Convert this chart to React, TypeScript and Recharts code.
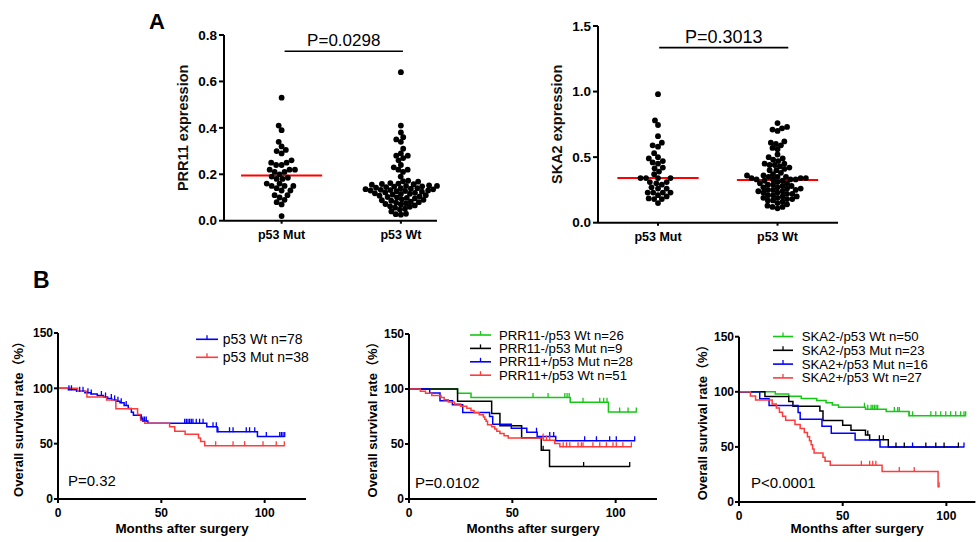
import React from 'react';
import { ScatterChart, Scatter, LineChart, Line, XAxis, YAxis, ReferenceLine } from 'recharts';

const FONT = 'Arial, "Liberation Sans", "Noto Sans CJK SC", sans-serif';

// ---------- Panel A: expression by p53 status ----------
const groups = ['p53 Mut', 'p53 Wt'];

const prr11Mut = [
  0.53, 0.41, 0.39, 0.34, 0.32, 0.305, 0.3, 0.29, 0.26, 0.25, 0.25, 0.24, 0.24, 0.22, 0.22, 0.22, 0.21, 0.21, 0.2,
  0.19, 0.185, 0.18, 0.18, 0.16, 0.16, 0.15, 0.15, 0.15, 0.14, 0.13, 0.13, 0.11, 0.11, 0.1, 0.09, 0.08, 0.07, 0.02,
];
const prr11Wt = [
  0.64, 0.41, 0.38, 0.36, 0.35, 0.34, 0.31, 0.29, 0.28, 0.28, 0.27, 0.26, 0.24, 0.23, 0.22, 0.22, 0.21, 0.19,
  0.172, 0.17, 0.168, 0.162, 0.16, 0.158, 0.157, 0.155, 0.152, 0.15, 0.15, 0.148, 0.147, 0.145, 0.142, 0.14, 0.14,
  0.138, 0.136, 0.135, 0.133, 0.132, 0.13, 0.13, 0.128, 0.127, 0.125, 0.122, 0.12, 0.118, 0.116, 0.115, 0.112,
  0.11, 0.108, 0.105, 0.102, 0.1, 0.098, 0.096, 0.092, 0.09, 0.088, 0.086, 0.082, 0.08, 0.078, 0.075, 0.072, 0.07,
  0.066, 0.062, 0.06, 0.056, 0.052, 0.048, 0.04, 0.03, 0.028, 0.026,
];
const ska2Mut = [
  0.98, 0.78, 0.745, 0.66, 0.61, 0.59, 0.58, 0.53, 0.5, 0.49, 0.47, 0.46, 0.45, 0.42, 0.415, 0.39, 0.37, 0.34, 0.34,
  0.34, 0.34, 0.31, 0.31, 0.3, 0.29, 0.27, 0.26, 0.26, 0.23, 0.23, 0.23, 0.23, 0.21, 0.2, 0.185, 0.18, 0.18, 0.15,
];
const ska2Wt = [
  0.76, 0.73, 0.72, 0.71, 0.7, 0.62, 0.61, 0.6, 0.59, 0.57, 0.56, 0.52, 0.5, 0.49, 0.48, 0.47, 0.45, 0.45, 0.44,
  0.44, 0.43, 0.42, 0.41, 0.4, 0.4, 0.38, 0.37, 0.36, 0.36, 0.35, 0.35, 0.35, 0.34, 0.34, 0.34, 0.33, 0.33, 0.33,
  0.33, 0.32, 0.32, 0.31, 0.3, 0.3, 0.29, 0.29, 0.28, 0.28, 0.27, 0.27, 0.26, 0.26, 0.25, 0.25, 0.25, 0.24, 0.24,
  0.23, 0.23, 0.22, 0.22, 0.21, 0.21, 0.2, 0.2, 0.19, 0.19, 0.18, 0.18, 0.17, 0.17, 0.16, 0.15, 0.14, 0.13, 0.12,
  0.12, 0.11,
];
const prr11Ticks = [0, 0.2, 0.4, 0.6, 0.8];
const ska2Ticks = [0, 0.5, 1, 1.5];

// ---------- Panel B: Kaplan-Meier curves (months, survival %) ----------
const monthTicks = [0, 50, 100];
const survTicks = [0, 50, 100, 150];

// p53 overall
const wtTimes = [5, 9, 13, 16, 19, 22, 24, 26, 28, 30, 32, 34, 35.5, 36.5, 40, 41, 43.5, 72, 77, 96.5];
const wtSurv = [98.7, 97.4, 96.1, 94.8, 93.5, 92.2, 90.9, 89.6, 88.3, 87, 84.4, 81.8, 78.5, 75.6, 72.4, 70.5, 68.5, 65.2, 60.8, 56.5];
const wtCensor = [
  5.3, 6.5, 10.5, 12.1, 14.5, 16.1, 21, 23, 25.8, 27.4, 29, 30.6, 33, 40.3, 41.1, 41.9, 42.7, 61.3, 62.1, 62.9, 63.7,
  64.5, 65.3, 66.9, 68.5, 70.2, 75, 76.6, 77.4, 83, 84.7, 91.1, 92.7, 95.2, 100.8, 107.3, 108.1, 108.9, 109.7,
];
const mutTimes = [9.5, 14, 23.5, 28, 38.5, 40, 42, 54, 56.5, 61.5, 68, 69, 71];
const mutSurv = [97.4, 92.1, 89.5, 81.6, 76.3, 71.1, 68.4, 65.3, 61.2, 58.5, 55.2, 51.9, 48.2];
const mutCensor = [76.3, 84.7, 90.3, 99.2, 105.6, 109.5];

// PRR11 x p53
const pNegWtTimes = [23.5, 30, 78, 96.5];
const pNegWtSurv = [96.2, 92.3, 88, 79.2];
const pNegWtCensor = [60, 67.3, 75.4, 76.5, 77.5, 84.2, 92.3, 94.2, 95.8, 101.9, 106, 110];
const pNegMutTimes = [23.5, 40, 44, 54.5, 64, 68];
const pNegMutSurv = [88.9, 77.8, 66.7, 55.6, 44.4, 29.6];
const pNegMutCensor = [64.9, 84.5, 106.8];
const pPosMutTimes = [10, 15, 21, 26, 39, 40.5, 49.5, 57, 62, 71];
const pPosMutSurv = [96.4, 89.3, 85.7, 78.6, 75, 67.9, 64.3, 60.7, 56.9, 52.9];
const pPosMutCensor = [61.7, 68.1, 70, 85, 90.7, 97.1, 100.3, 109.2];
const pPosWtTimes = [5.5, 8, 11, 15.5, 17, 19, 22, 25, 28, 30, 31.5, 34, 36, 36.7, 37.3, 38, 40, 41.5, 42.5, 44, 46, 48, 65, 70.5, 73];
const pPosWtSurv = [98, 96.1, 94.1, 92.2, 90.2, 88.2, 86.3, 84.3, 82.4, 80.4, 78.4, 76.5, 74.5, 72.5, 70.6, 67.6, 65.6, 63.6, 61.6, 59.6, 57.6, 55.5, 53.3, 50.5, 47.4];
const pPosWtCensor = [64.9, 66.5, 68.1, 74.6, 76.2, 77.8, 81.8, 83.4, 84.2, 89, 92.3, 95.5, 98.7, 100.3, 103.5, 107.6];

// SKA2 x p53
const sNegWtTimes = [17.5, 24, 30, 37.5, 42, 45, 48, 61, 71, 82];
const sNegWtSurv = [98, 96, 94, 92, 90, 88, 86, 84.2, 82.2, 78.2];
const sNegWtCensor = [60.5, 62.1, 63.7, 64.5, 65.3, 66.1, 66.9, 74.9, 76.5, 77.3, 82.1, 83.7, 92.5, 94.9, 97.3, 99.7, 102.1, 104.5, 106.9, 108.5, 109.3];
const sNegMutTimes = [12.5, 24, 26, 39, 40.5, 50, 54, 61, 63, 72];
const sNegMutSurv = [95.7, 91.3, 87, 82.6, 73.9, 69.6, 65.2, 60.9, 56.5, 50];
const sNegMutCensor = [62.1, 67.7, 69.6, 75.7, 79.7, 90.1, 94.9, 98.9, 105.8];
const sPosMutTimes = [10, 14.5, 28.5, 29.5, 40, 44.5, 56, 68];
const sPosMutSurv = [93.75, 87.5, 81.25, 75, 68.75, 62.5, 56.25, 50];
const sPosMutCensor = [83.7, 108.5];
const sPosWtTimes = [5.5, 8, 16, 18, 19.5, 21, 22.5, 27, 29.5, 31.5, 33, 34, 34.8, 35.5, 36.2, 40.5, 41.5, 44, 69, 96];
const sPosWtSurv = [96.3, 92.6, 88.9, 85.2, 81.5, 77.8, 74.1, 70.4, 66.7, 63, 59.3, 55.6, 51.9, 48.1, 44.4, 40.7, 37, 33.3, 27.7, 13.9];
const sPosWtCensor = [59, 63, 64.5, 66, 77.3, 84.5, 96.5];

const BLUE = '#0000ff';
const RED = '#ff3b3b';
const GREEN = '#14c814';
const BLACK = '#000000';

type Curve = { name: string; color: string; times: number[]; surv: number[]; censor: number[] };

const curve = (name: string, color: string, times: number[], surv: number[], censor: number[]): Curve => ({
  name, color, times, surv, censor,
});

const p53Curves = [
  curve('p53 Wt n=78', BLUE, wtTimes, wtSurv, wtCensor),
  curve('p53 Mut n=38', RED, mutTimes, mutSurv, mutCensor),
];
const prr11Curves = [
  curve('PRR11-/p53 Wt n=26', GREEN, pNegWtTimes, pNegWtSurv, pNegWtCensor),
  curve('PRR11-/p53 Mut n=9', BLACK, pNegMutTimes, pNegMutSurv, pNegMutCensor),
  curve('PRR11+/p53 Mut n=28', BLUE, pPosMutTimes, pPosMutSurv, pPosMutCensor),
  curve('PRR11+/p53 Wt n=51', RED, pPosWtTimes, pPosWtSurv, pPosWtCensor),
];
const ska2Curves = [
  curve('SKA2-/p53 Wt n=50', GREEN, sNegWtTimes, sNegWtSurv, sNegWtCensor),
  curve('SKA2-/p53 Mut n=23', BLACK, sNegMutTimes, sNegMutSurv, sNegMutCensor),
  curve('SKA2+/p53 Mut n=16', BLUE, sPosMutTimes, sPosMutSurv, sPosMutCensor),
  curve('SKA2+/p53 Wt n=27', RED, sPosWtTimes, sPosWtSurv, sPosWtCensor),
];

// ---------- helpers ----------
function median(a: number[]) {
  const s = [...a].sort((x, y) => x - y);
  const m = Math.floor(s.length / 2);
  return s.length % 2 ? s[m] : (s[m - 1] + s[m]) / 2;
}

// simple beeswarm: place each dot as close to the column centre as it can without overlap
function swarm(values: number[], cat: number, pxX: number, pxY: number, d: number) {
  const pts: { x: number; y: number }[] = [];
  [...values].sort((a, b) => a - b).forEach((v) => {
    const y = v * pxY;
    const cands = [0];
    pts.forEach((p) => {
      const dy = Math.abs(p.y - y);
      if (dy < d) {
        const dx = Math.sqrt(d * d - dy * dy);
        cands.push(p.x + dx, p.x - dx);
      }
    });
    cands.sort((a, b) => Math.abs(a) - Math.abs(b) || a - b);
    const x = cands.find((c) => pts.every((p) => (p.x - c) ** 2 + (p.y - y) ** 2 >= d * d - 0.01)) ?? 0;
    pts.push({ x, y });
  });
  return pts.map((p) => ({ x: cat + p.x / pxX, y: p.y / pxY }));
}

function steps(c: Curve) {
  const last = c.censor[c.censor.length - 1];
  const end = Math.max(last, c.times[c.times.length - 1]);
  return [{ t: 0, s: 100 }, ...c.times.map((t, i) => ({ t, s: c.surv[i] })), { t: end, s: c.surv[c.surv.length - 1] }];
}

function survAt(c: Curve, t: number) {
  let s = 100;
  c.times.forEach((tt, i) => {
    if (tt <= t) s = c.surv[i];
  });
  return s;
}

const dotShape = (p: any) => <circle cx={p.cx} cy={p.cy} r={2.9} fill="#000" />;

const tickStyle = { fill: '#000', fontSize: 12, fontWeight: 'bold' as const };
const axisStyle = { stroke: '#000', strokeWidth: 2 };

type DotProps = {
  left: number; top: number; width: number; height: number;
  mTop: number; mRight: number; yw: number; xh: number;
  xDomain: [number, number]; yDomain: [number, number]; yTicks: number[];
  yLabel: string; labelOffset: number; mut: number[]; wt: number[];
  pText: string; pSize: number; bracketY: number; bracketX: [number, number];
};

function DotPlot(p: DotProps) {
  const plotW = p.width - p.yw - p.mRight;
  const plotH = p.height - p.mTop - p.xh;
  const pxX = plotW / (p.xDomain[1] - p.xDomain[0]);
  const pxY = plotH / (p.yDomain[1] - p.yDomain[0]);
  const mutPts = swarm(p.mut, 0, pxX, pxY, 5.5);
  const wtPts = swarm(p.wt, 1, pxX, pxY, 5.2);
  const mMed = median(p.mut);
  const wMed = median(p.wt);
  return (
    <div style={{ position: 'absolute', left: p.left, top: p.top }}>
      <ScatterChart width={p.width} height={p.height} margin={{ top: p.mTop, right: p.mRight, bottom: 0, left: 0 }}>
        <XAxis
          type="number" dataKey="x" domain={p.xDomain} ticks={[0, 1]} interval={0} height={p.xh}
          tickFormatter={(v: number) => groups[v]} tick={{ ...tickStyle, fontSize: 12.5 }}
          axisLine={axisStyle} tickLine={axisStyle} tickSize={3} tickMargin={6}
        />
        <YAxis
          type="number" dataKey="y" domain={p.yDomain} ticks={p.yTicks} width={p.yw}
          tickFormatter={(v: number) => v.toFixed(1)} tick={{ ...tickStyle, fontSize: 13.5 }}
          axisLine={axisStyle} tickLine={axisStyle} tickSize={5} tickMargin={2}
          label={{
            value: p.yLabel, angle: -90, position: 'insideLeft', offset: p.labelOffset,
            fontSize: 14.5, fontWeight: 'bold', fill: '#111', style: { textAnchor: 'middle' },
          }}
        />
        <Scatter data={mutPts} shape={dotShape} isAnimationActive={false} />
        <Scatter data={wtPts} shape={dotShape} isAnimationActive={false} />
        <ReferenceLine segment={[{ x: -0.34, y: mMed }, { x: 0.34, y: mMed }]} stroke="#ff0000" strokeWidth={2} />
        <ReferenceLine segment={[{ x: 0.66, y: wMed }, { x: 1.34, y: wMed }]} stroke="#ff0000" strokeWidth={2} />
        <ReferenceLine
          segment={[{ x: p.bracketX[0], y: p.bracketY }, { x: p.bracketX[1], y: p.bracketY }]}
          stroke="#000" strokeWidth={1.6}
          label={{ value: p.pText, position: 'top', offset: 5, fontSize: p.pSize, fill: '#000' }}
        />
      </ScatterChart>
    </div>
  );
}

type KMProps = {
  left: number; top: number; width: number; height: number;
  mTop: number; mRight: number; yw: number; xh: number; xMax: number;
  curves: Curve[]; labelOffset: number;
};

function KMPlot(p: KMProps) {
  return (
    <div style={{ position: 'absolute', left: p.left, top: p.top }}>
      <LineChart width={p.width} height={p.height} margin={{ top: p.mTop, right: p.mRight, bottom: 0, left: 0 }}>
        <XAxis
          type="number" dataKey="t" domain={[0, p.xMax]} ticks={monthTicks} interval={0} allowDataOverflow
          height={p.xh} tick={tickStyle} axisLine={axisStyle} tickLine={axisStyle} tickSize={4} tickMargin={5}
          label={{
            value: 'Months after surgery', position: 'insideBottom', offset: 9,
            fontSize: 13.4, fontWeight: 'bold', fill: '#000',
          }}
        />
        <YAxis
          type="number" domain={[0, 150]} ticks={survTicks} width={p.yw} tick={tickStyle}
          axisLine={axisStyle} tickLine={axisStyle} tickSize={4} tickMargin={1}
          label={{
            value: 'Overall survival rate（%）', angle: -90, position: 'insideLeft', offset: p.labelOffset,
            fontSize: 13, fontWeight: 'bold', fill: '#000', style: { textAnchor: 'middle' },
          }}
        />
        {p.curves.map((c) => (
          <Line
            key={c.name} data={steps(c)} dataKey="s" type="stepAfter" stroke={c.color} strokeWidth={1.5}
            dot={false} activeDot={false} isAnimationActive={false}
          />
        ))}
        {p.curves.map((c) => (
          <Line
            key={c.name + '-censor'} data={c.censor.map((t) => ({ t, s: survAt(c, t) }))} dataKey="s"
            stroke="none" activeDot={false} isAnimationActive={false}
            dot={(d: any) => (
              <line key={`${c.name}-${d.index}`} x1={d.cx} x2={d.cx} y1={d.cy - 4.5} y2={d.cy + 0.5} stroke={c.color} strokeWidth={1.3} />
            )}
          />
        ))}
      </LineChart>
    </div>
  );
}

function LegendBlock({ items, y0, step, x0, x1, tx, size }: { items: Curve[]; y0: number; step: number; x0: number; x1: number; tx: number; size: number }) {
  return (
    <g>
      {items.map((c, i) => {
        const y = y0 + i * step;
        const mid = (x0 + x1) / 2;
        return (
          <g key={c.name}>
            <line x1={x0} x2={x1} y1={y} y2={y} stroke={c.color} strokeWidth={1.6} />
            <line x1={mid} x2={mid} y1={y - 4} y2={y} stroke={c.color} strokeWidth={1.3} />
            <text x={tx} y={y} dominantBaseline="central" fontSize={size} fill="#000">{c.name}</text>
          </g>
        );
      })}
    </g>
  );
}

export default function App() {
  return (
    <div style={{ position: 'absolute', left: 0, top: 0, width: 978, height: 542, background: '#fff', fontFamily: FONT, overflow: 'hidden' }}>
      <DotPlot
        left={150} top={0} width={300} height={250} mTop={35} mRight={13} yw={74} xh={29.3}
        xDomain={[-0.483, 1.292]} yDomain={[0, 0.8]} yTicks={prr11Ticks} yLabel="PRR11 expression" labelOffset={33}
        mut={prr11Mut} wt={prr11Wt} pText="P=0.0298" pSize={17} bracketY={0.73} bracketX={[0.025, 1.017]}
      />
      <DotPlot
        left={530} top={0} width={320} height={250} mTop={26} mRight={12} yw={68} xh={27.3}
        xDomain={[-0.502, 1.506]} yDomain={[0, 1.5]} yTicks={ska2Ticks} yLabel="SKA2 expression" labelOffset={27}
        mut={ska2Mut} wt={ska2Wt} pText="P=0.3013" pSize={18} bracketY={1.335} bracketX={[0.01, 1.09]}
      />
      <KMPlot left={0} top={300} width={320} height={242} mTop={33} mRight={14} yw={58} xh={43} xMax={120} curves={p53Curves} labelOffset={18} />
      <KMPlot left={350} top={300} width={320} height={242} mTop={34} mRight={13} yw={59} xh={43} xMax={120} curves={prr11Curves} labelOffset={22} />
      <KMPlot left={680} top={300} width={298} height={242} mTop={36.7} mRight={2.6} yw={59} xh={40} xMax={114} curves={ska2Curves} labelOffset={22} />
      <svg width={978} height={542} style={{ position: 'absolute', left: 0, top: 0, pointerEvents: 'none', fontFamily: FONT }}>
        <text x={149} y={29} fontSize={22} fontWeight="bold">A</text>
        <text x={33} y={288} fontSize={23} fontWeight="bold">B</text>
        <text x={68} y={486} fontSize={15}>P=0.32</text>
        <text x={415} y={488} fontSize={15}>P=0.0102</text>
        <text x={751} y={488} fontSize={15}>P&lt;0.0001</text>
        <LegendBlock items={p53Curves} y0={339.3} step={18} x0={196} x1={218} tx={222.7} size={14} />
        <LegendBlock items={prr11Curves} y0={335} step={13.4} x0={470} x1={491} tx={499} size={13.2} />
        <LegendBlock items={ska2Curves} y0={336.5} step={13.8} x0={773} x1={793} tx={801.7} size={13.2} />
      </svg>
    </div>
  );
}
